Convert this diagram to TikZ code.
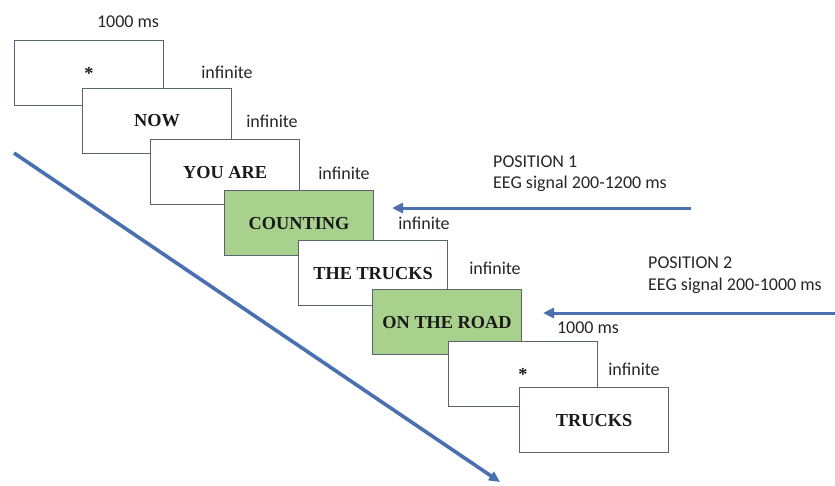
\documentclass[tikz,border=0pt]{standalone}
\usepackage{fontspec}
\setmainfont{Liberation Serif}
\newfontfamily\labelfont{Carlito}
\usetikzlibrary{arrows.meta}

\definecolor{arrowblue}{RGB}{74,112,176}
\definecolor{slidegreen}{RGB}{169,209,142}
\definecolor{slideedge}{RGB}{90,100,110}

\begin{document}
\begin{tikzpicture}[x=1pt,y=-1pt]
		\tikzstyle{slide}=[draw=slideedge,line width=1.1pt,fill=white,anchor=north west,minimum width=149pt,minimum height=65pt,inner sep=0pt,font=\fontsize{18.3}{20}\selectfont\bfseries,text=black!90]
		\tikzstyle{target slide}=[slide,fill=slidegreen]
		\tikzstyle{timing}=[font=\labelfont\fontsize{18}{20}\selectfont,text=black!85,inner sep=0pt]
		\tikzstyle{position}=[timing,align=left,anchor=west,font=\labelfont\fontsize{18}{21.5}\selectfont]
		\tikzstyle{signal arrow}=[draw=arrowblue,line width=3pt,-{Triangle[length=11pt,width=10pt]}]
		
		\useasboundingbox (0,0) rectangle (835,485);
		
		% Draw the slides, one after the other
		\foreach \name / \x / \y / \word / \kind in {1/14/40/*/slide, 2/82/88/NOW/slide, 3/150/139/YOU ARE/slide, 4/224/190/COUNTING/target slide, 5/298/240/THE TRUCKS/slide, 6/372/289/ON THE ROAD/target slide, 7/448/341/*/slide, 8/519/387/TRUCKS/slide}
			\node[\kind] (S-\name) at (\x,\y) {\word};
		
		% Durations next to the slides
		\node[timing] (t0) at (128,22) {1000 ms};
		\foreach \name / \x / \y in {1/227/72, 2/272/121, 3/344/173, 4/424/223, 5/495/268, 7/634/369}
			\node[timing] (t-\name) at (\x,\y) {infinite};
		\node[timing] (t-6) at (588,328) {1000 ms};
		
		% Annotate the two positions
		\node[position] (p1) at (493,173.5) {POSITION 1\\EEG signal 200-1200 ms};
		\node[position] (p2) at (648,275) {POSITION 2\\EEG signal 200-1000 ms};
		
		\coordinate (a1) at (691,208);
		\coordinate (b1) at (392,208);
		\coordinate (a2) at (835,313);
		\coordinate (b2) at (543,313);
		\draw[signal arrow] (a1) -- (b1);
		\draw[signal arrow] (a2) -- (b2);
		
		% Time axis
		\coordinate (time start) at (14,153);
		\coordinate (time end) at (500,482);
		\draw[signal arrow,line width=3.6pt] (time start) -- (time end);
	\end{tikzpicture}
\end{document}
